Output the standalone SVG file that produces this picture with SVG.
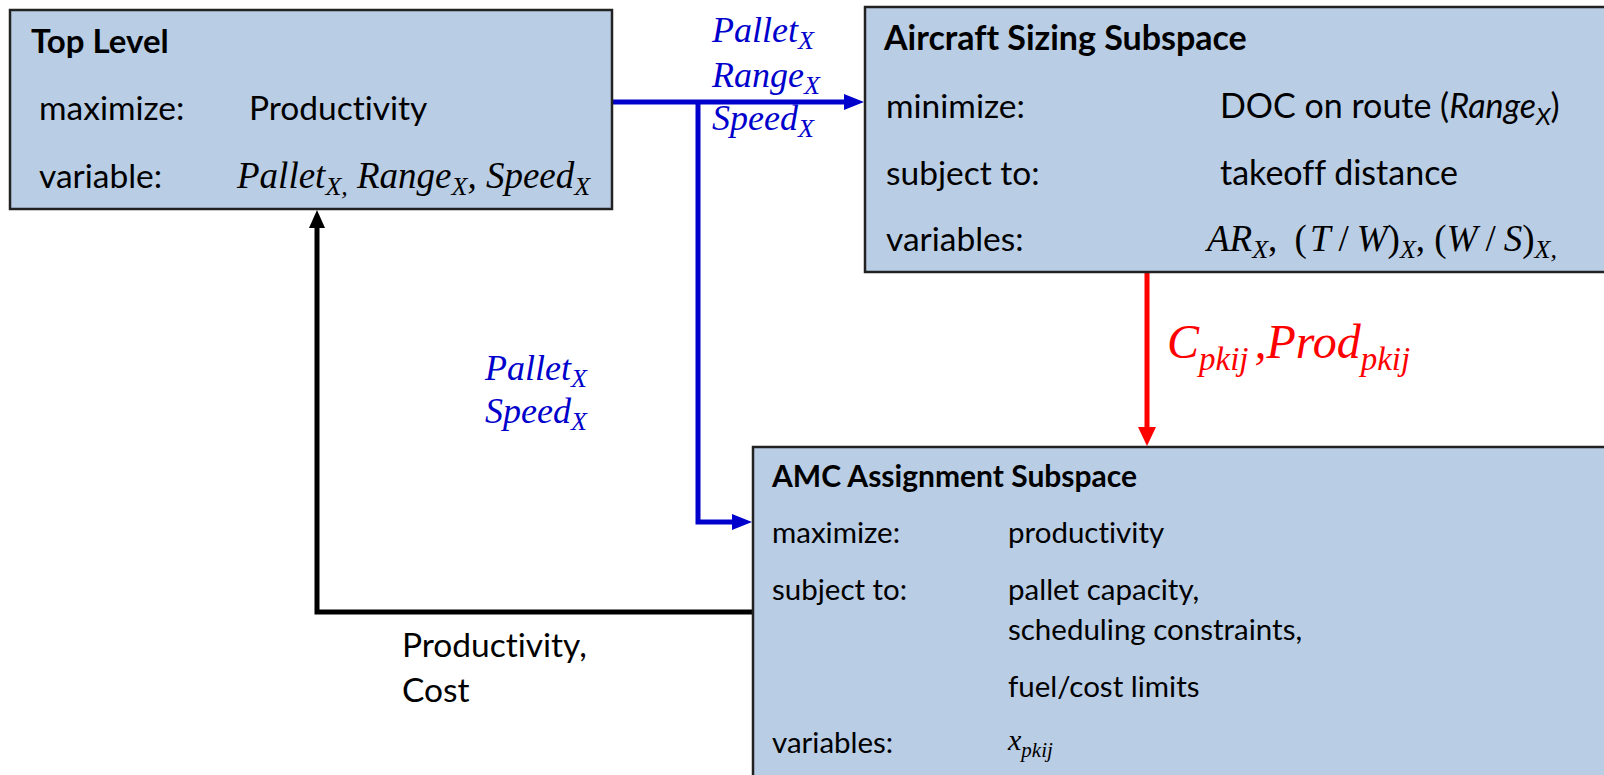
<svg xmlns="http://www.w3.org/2000/svg" width="1604" height="775" viewBox="0 0 1604 775">
  <style>
    .box { fill: #B9CDE5; stroke: #222; stroke-width: 2.5; }
    .t { font-family: Lato, "Open Sans", sans-serif; fill: #000; font-variant-ligatures: none; }
    .h { font-weight: bold; }
    .m { font-family: "Liberation Serif", "Times New Roman", serif; font-style: italic; }
    .up { font-style: normal; }
    .blue { fill: #0000CC; }
    .red { fill: #FF0000; }
    .conn { fill: none; stroke-width: 5; stroke-linejoin: miter; }
  </style>
  <defs>
    <marker id="arrBlue" viewBox="0 0 20 20" refX="0" refY="10" markerUnits="userSpaceOnUse" markerWidth="20" markerHeight="20" orient="auto">
      <path d="M0,2 L20,10 L0,18 Z" fill="#0000CC"/>
    </marker>
    <marker id="arrRed" viewBox="0 0 20 20" refX="0" refY="10" markerUnits="userSpaceOnUse" markerWidth="20" markerHeight="20" orient="auto">
      <path d="M0,1 L19,10 L0,19 Z" fill="#FF0000"/>
    </marker>
    <marker id="arrBlack" viewBox="0 0 20 20" refX="0" refY="10" markerUnits="userSpaceOnUse" markerWidth="20" markerHeight="20" orient="auto">
      <path d="M0,2 L18,10 L0,18 Z" fill="#000"/>
    </marker>
  </defs>

  <!-- connectors -->
  <g id="connectors">
    <path class="conn" d="M612,102 H844" stroke="#0000CC" marker-end="url(#arrBlue)"/>
    <path class="conn" d="M698,102 V522 H732" stroke="#0000CC" marker-end="url(#arrBlue)"/>
    <path class="conn" d="M1147,272 V427" stroke="#FF0000" marker-end="url(#arrRed)"/>
    <path class="conn" d="M753,612 H317 V228" stroke="#000" marker-end="url(#arrBlack)"/>
  </g>

  <!-- top level -->
  <g id="top-level">
    <rect class="box" x="10" y="10" width="602" height="199"/>
    <text class="t h" x="31" y="53" font-size="33">Top Level</text>
    <text class="t" x="39" y="120" font-size="33.5">maximize:</text>
    <text class="t" x="249" y="120" font-size="33.5">Productivity</text>
    <text class="t" x="39" y="188" font-size="33.5">variable:</text>
    <text class="m" x="237" y="188" font-size="37">Pallet<tspan font-size="26" dy="7">X,</tspan><tspan dy="-7"> Range</tspan><tspan font-size="26" dy="7">X</tspan><tspan dy="-7">, Speed</tspan><tspan font-size="26" dy="7">X</tspan></text>
  </g>

  <!-- aircraft sizing -->
  <g id="aircraft-sizing">
    <rect class="box" x="865" y="7" width="760" height="265"/>
    <text class="t h" x="884" y="50" font-size="34">Aircraft Sizing Subspace</text>
    <text class="t" x="886" y="118" font-size="33.5">minimize:</text>
    <text class="t" x="1220" y="118" font-size="34">DOC on route (<tspan font-style="italic">Range</tspan><tspan font-style="italic" font-size="24" dy="7">X</tspan><tspan dy="-7">)</tspan></text>
    <text class="t" x="886" y="185" font-size="33.5">subject to:</text>
    <text class="t" x="1220" y="185" font-size="34">takeoff distance</text>
    <text class="t" x="886" y="251" font-size="33.5">variables:</text>
    <text class="m" x="1207" y="251" font-size="37">AR<tspan font-size="26" dy="7">X</tspan><tspan class="up" dy="-7">, </tspan><tspan class="up" dx="8">(</tspan><tspan dx="3">T</tspan><tspan class="up" dx="8">/</tspan><tspan dx="8">W</tspan><tspan class="up">)</tspan><tspan font-size="26" dy="7">X</tspan><tspan class="up" dy="-7">, (</tspan>W<tspan class="up" dx="8">/</tspan><tspan dx="8">S</tspan><tspan class="up">)</tspan><tspan font-size="26" dy="7">X,</tspan></text>
  </g>

  <!-- AMC assignment -->
  <g id="amc-assignment">
    <rect class="box" x="753" y="447" width="900" height="400"/>
    <text class="t h" x="772" y="487" font-size="30">AMC Assignment Subspace</text>
    <text class="t" x="772" y="543" font-size="29.5">maximize:</text>
    <text class="t" x="1008" y="543" font-size="29.5">productivity</text>
    <text class="t" x="772" y="600" font-size="29.5">subject to:</text>
    <text class="t" x="1008" y="600" font-size="29.5">pallet capacity,</text>
    <text class="t" x="1008" y="640" font-size="29.5">scheduling constraints,</text>
    <text class="t" x="1008" y="697" font-size="29.5">fuel/cost limits</text>
    <text class="t" x="772" y="753" font-size="29.5">variables:</text>
    <text class="m" x="1008" y="750" font-size="30">x<tspan font-size="21" dy="7">pkij</tspan></text>
  </g>

  <!-- connector labels -->
  <g id="labels">
    <text class="m blue" x="712" y="42" font-size="36">Pallet<tspan font-size="26" dy="7">X</tspan></text>
    <text class="m blue" x="712" y="87" font-size="36">Range<tspan font-size="26" dy="7">X</tspan></text>
    <text class="m blue" x="712" y="130" font-size="36">Speed<tspan font-size="26" dy="7">X</tspan></text>
    <text class="m blue" x="485" y="380" font-size="36">Pallet<tspan font-size="26" dy="7">X</tspan></text>
    <text class="m blue" x="485" y="423" font-size="36">Speed<tspan font-size="26" dy="7">X</tspan></text>
    <text class="m red" x="1167" y="358" font-size="48">C<tspan font-size="33" dy="12">pkij</tspan><tspan dy="-12" dx="6">,Prod</tspan><tspan font-size="33" dy="12">pkij</tspan></text>
    <text class="t" x="402" y="657" font-size="33.5">Productivity,</text>
    <text class="t" x="402" y="702" font-size="33.5">Cost</text>
  </g>
</svg>
